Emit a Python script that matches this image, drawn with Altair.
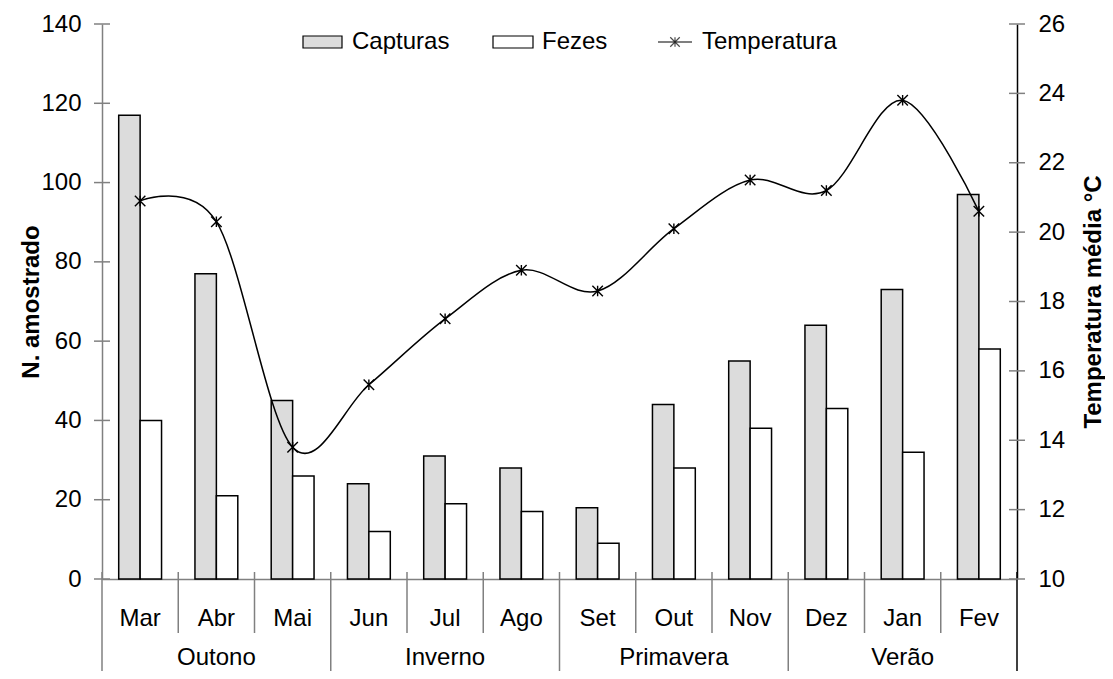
import altair as alt
import pandas as pd

# ---------------- data ----------------
months = ["Mar", "Abr", "Mai", "Jun", "Jul", "Ago", "Set", "Out", "Nov", "Dez", "Jan", "Fev"]
seasons = ["Outono", "Inverno", "Primavera", "Verão"]
season_mid_month = ["Abr", "Jul", "Out", "Jan"]
season_start_month = ["Mar", "Jun", "Set", "Dez"]
inner_month_bounds = ["Abr", "Mai", "Jul", "Ago", "Out", "Nov", "Jan", "Fev"]
series = ["Capturas", "Fezes"]
capturas = [117, 77, 45, 24, 31, 28, 18, 44, 55, 64, 73, 97]
fezes = [40, 21, 26, 12, 19, 17, 9, 28, 38, 43, 32, 58]
temperatura = [20.9, 20.3, 13.8, 15.6, 17.5, 18.9, 18.3, 20.1, 21.5, 21.2, 23.8, 20.6]
left_ticks = [0, 20, 40, 60, 80, 100, 120, 140]
right_ticks = [10, 12, 14, 16, 18, 20, 22, 24, 26]

# ---------------- layout ----------------
W, H = 915, 555
BOTTOM = 92
FONT = "Liberation Sans"
FS = 24
GRAY = "#808080"
DOTFILL = "#dcdcdc"
STAR = "M-1,-1L1,1M-1,1L1,-1M0,-1L0,1"

bars_df = pd.DataFrame({
    "month": months * 2,
    "series": [series[0]] * len(months) + [series[1]] * len(months),
    "value": capturas + fezes,
})
temp_df = pd.DataFrame({"month": months, "temp": temperatura})
one = pd.DataFrame({"k": [0]})

xscale = alt.Scale(domain=months, paddingInner=0, paddingOuter=0)
yl_scale = alt.Scale(domain=[0, 140], nice=False)
yr_scale = alt.Scale(domain=[10, 26], nice=False)

x_main = alt.X("month:N", sort=months, scale=xscale,
               axis=alt.Axis(labels=False, ticks=False, title=None, domainColor=GRAY,
                             domainWidth=1.5, grid=False))


def xm(**kw):
    return alt.X("month:N", sort=months, scale=xscale, title=None, **kw)


bars = alt.Chart(bars_df).mark_bar(stroke="black", strokeWidth=1.5).encode(
    x=x_main,
    xOffset=alt.XOffset("series:N", sort=series,
                        scale=alt.Scale(domain=series, paddingInner=0, paddingOuter=0.78)),
    y=alt.Y("value:Q", scale=yl_scale,
            axis=alt.Axis(values=left_ticks, ticks=False, labelPadding=21, labelFontSize=FS,
                          title="N. amostrado", titleFontSize=FS, titleFontWeight="bold",
                          titleX=-71, titleY=H / 2, titleAngle=270, titleAlign="center",
                          titleBaseline="middle", domainColor=GRAY, domainWidth=1.5, grid=False)),
    fill=alt.Fill("series:N", scale=alt.Scale(domain=series, range=[DOTFILL, "white"]), legend=None),
)

left_tick_rules = alt.Chart(pd.DataFrame({"value": left_ticks})).mark_rule(color=GRAY, strokeWidth=1.5).encode(
    y=alt.Y("value:Q", scale=yl_scale),
    x=alt.value(-8), x2=alt.value(8),
)

month_rules = alt.Chart(pd.DataFrame({"month": inner_month_bounds})).mark_rule(color=GRAY, strokeWidth=1.5).encode(
    x=xm(bandPosition=0),
    y=alt.value(H - 7), y2=alt.value(H + 54),
)
season_rules = alt.Chart(pd.DataFrame({"month": season_start_month})).mark_rule(color=GRAY, strokeWidth=1.5).encode(
    x=xm(bandPosition=0),
    y=alt.value(H - 7), y2=alt.value(H + BOTTOM),
)
end_rule = alt.Chart(pd.DataFrame({"month": [months[-1]]})).mark_rule(color="black", strokeWidth=1.5).encode(
    x=xm(bandPosition=1),
    y=alt.value(H - 7), y2=alt.value(H + BOTTOM),
)

month_labels = alt.Chart(pd.DataFrame({"month": months})).mark_text(
    fontSize=FS, baseline="alphabetic", align="center", color="black").encode(
    x=xm(),
    y=alt.value(H + 47),
    text="month:N",
)
season_labels = alt.Chart(pd.DataFrame({"month": season_mid_month, "season": seasons})).mark_text(
    fontSize=FS, baseline="alphabetic", align="center", color="black").encode(
    x=xm(),
    y=alt.value(H + 86),
    text="season:N",
)

# legend (manual)
leg_capt_box = alt.Chart(one).mark_rect(fill=DOTFILL, stroke="black", strokeWidth=1.2).encode(
    x=alt.value(201), x2=alt.value(240), y=alt.value(12), y2=alt.value(24))
leg_capt_txt = alt.Chart(one).mark_text(fontSize=FS, align="left", baseline="middle", color="black").encode(
    x=alt.value(250), y=alt.value(18), text=alt.value("Capturas"))
leg_fez_box = alt.Chart(one).mark_rect(fill="white", stroke="black", strokeWidth=1.2).encode(
    x=alt.value(391), x2=alt.value(431), y=alt.value(12), y2=alt.value(24))
leg_fez_txt = alt.Chart(one).mark_text(fontSize=FS, align="left", baseline="middle", color="black").encode(
    x=alt.value(440), y=alt.value(18), text=alt.value("Fezes"))
leg_line = alt.Chart(one).mark_rule(color="black", strokeWidth=1.2).encode(
    x=alt.value(556), x2=alt.value(590), y=alt.value(18))
leg_star = alt.Chart(one).mark_point(shape=STAR, size=90, filled=False, stroke="black", strokeWidth=1.2).encode(
    x=alt.value(573), y=alt.value(18))
leg_temp_txt = alt.Chart(one).mark_text(fontSize=FS, align="left", baseline="middle", color="black").encode(
    x=alt.value(600), y=alt.value(18), text=alt.value("Temperatura"))

left = alt.layer(bars, left_tick_rules, month_rules, season_rules, end_rule, month_labels, season_labels,
                 leg_capt_box, leg_capt_txt, leg_fez_box, leg_fez_txt, leg_line, leg_star, leg_temp_txt)

# temperature
y_temp = alt.Y("temp:Q", scale=yr_scale,
               axis=alt.Axis(orient="right", values=right_ticks, ticks=False, labelPadding=21, labelFontSize=FS,
                             title="Temperatura média °C", titleFontSize=FS, titleFontWeight="bold",
                             titleX=76, titleY=H / 2, titleAngle=270, titleAlign="center",
                             titleBaseline="middle", domainColor="black", domainWidth=1.5, grid=False))
line = alt.Chart(temp_df).mark_line(interpolate="cardinal", tension=0, color="black", strokeWidth=1.5).encode(
    x=xm(),
    y=y_temp,
)
points = alt.Chart(temp_df).mark_point(shape=STAR, size=110, filled=False, stroke="black", strokeWidth=1.4,
                                       opacity=1).encode(
    x=xm(),
    y=alt.Y("temp:Q", scale=yr_scale),
)
right_tick_rules = alt.Chart(pd.DataFrame({"temp": right_ticks})).mark_rule(color=GRAY, strokeWidth=1.5).encode(
    y=alt.Y("temp:Q", scale=yr_scale),
    x=alt.value(W - 8), x2=alt.value(W + 8),
)
right = alt.layer(line, points, right_tick_rules)

chart = alt.layer(left, right).resolve_scale(y="independent").properties(
    width=W, height=H,
    padding={"left": 94, "top": 16, "right": 88, "bottom": BOTTOM},
    autosize=alt.AutoSizeParams(type="none"),
).configure(font=FONT).configure_view(stroke=None).configure_axis(
    labelColor="black", titleColor="black", labelFont=FONT, titleFont=FONT
)

chart.save("out.html", embed_options={"renderer": "svg", "actions": False})
